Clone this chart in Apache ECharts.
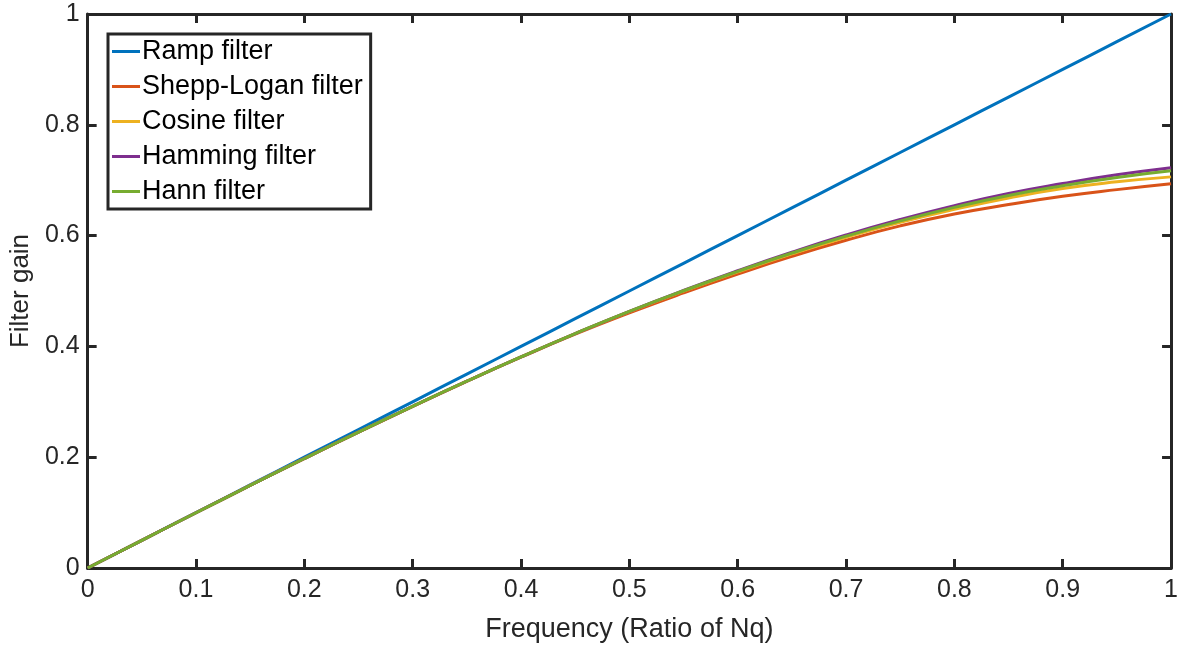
<!DOCTYPE html>
<html>
<head>
<meta charset="utf-8">
<script src="https://cdn.jsdelivr.net/npm/echarts@6/dist/echarts.min.js"></script>
<style>html,body{margin:0;padding:0;background:#fff}#c{width:1181px;height:648px}</style>
</head>
<body>
<div id="c"></div>
<script>
const freq = [0,0.05,0.1,0.15,0.2,0.25,0.3,0.35,0.4,0.45,0.5,0.55,0.6,0.65,0.7,0.75,0.8,0.85,0.9,0.95,1.0];
const ramp = [0,0.05,0.1,0.15,0.2,0.25,0.3,0.35,0.4,0.45,0.5,0.55,0.6,0.65,0.7,0.75,0.8,0.85,0.9,0.95,1.0];
const sheppLogan = [0,0.05,0.0997,0.149,0.1975,0.2451,0.2915,0.337,0.3805,0.422,0.4605,0.4965,0.5305,0.5625,0.5915,0.6175,0.639,0.656,0.671,0.683,0.6936];
const cosine = [0,0.05,0.0997,0.149,0.1976,0.2453,0.2919,0.3372,0.381,0.4231,0.4628,0.4998,0.5345,0.567,0.597,0.624,0.6475,0.668,0.685,0.697,0.706];
const hamming = [0,0.05,0.0997,0.149,0.1976,0.2453,0.2919,0.3372,0.381,0.4231,0.4633,0.501,0.5365,0.570,0.601,0.629,0.654,0.676,0.694,0.7098,0.7226];
const hann = [0,0.05,0.0997,0.149,0.1976,0.2453,0.2919,0.3372,0.381,0.4231,0.4633,0.5005,0.5355,0.5685,0.599,0.6265,0.651,0.6725,0.690,0.705,0.717];
const xTicks = [0,0.1,0.2,0.3,0.4,0.5,0.6,0.7,0.8,0.9,1];
const yTicks = [0,0.2,0.4,0.6,0.8,1];
const names = ['Ramp filter','Shepp-Logan filter','Cosine filter','Hamming filter','Hann filter'];
const colors = ['#0072BD','#D95319','#EDB120','#7E2F8E','#77AC30'];

const ink = '#262626';
const font = 'Arial';
function pairs(ys){ return freq.map((x,i)=>[x,ys[i]]); }
const allY = [ramp, sheppLogan, cosine, hamming, hann];

const chart = echarts.init(document.getElementById('c'));
const axisCommon = {
  type:'value', min:0, splitLine:{show:false},
  axisLine:{show:true, onZero:false, lineStyle:{color:ink, width:3}},
  axisTick:{show:true, inside:true, length:9, lineStyle:{color:ink, width:3}},
};
chart.setOption({
  animation:false,
  backgroundColor:'#fff',
  color: colors,
  grid:{left:86, right:8, top:14, bottom:80, containLabel:false},
  xAxis:[
    Object.assign({}, axisCommon, {max:1, interval:xTicks[1]-xTicks[0], position:'bottom',
      name:'Frequency (Ratio of Nq)', nameLocation:'middle', nameGap:48,
      nameTextStyle:{color:ink, fontSize:27, fontFamily:font},
      axisLabel:{color:ink, fontSize:25, fontFamily:font, margin:10}}),
    Object.assign({}, axisCommon, {max:1, interval:xTicks[1]-xTicks[0], position:'top', axisLabel:{show:false}})
  ],
  yAxis:[
    Object.assign({}, axisCommon, {max:1, interval:yTicks[1]-yTicks[0], position:'left',
      name:'Filter gain', nameLocation:'middle', nameGap:42,
      nameTextStyle:{color:ink, fontSize:26, fontFamily:font},
      axisLabel:{color:ink, fontSize:25, fontFamily:font, margin:8}}),
    Object.assign({}, axisCommon, {max:1, interval:yTicks[1]-yTicks[0], position:'right', axisLabel:{show:false}})
  ],
  legend:{
    orient:'vertical', left:108, top:34,
    data:names,
    icon:'rect', itemWidth:28, itemHeight:3, itemGap:8,
    padding:[4,8,4,4],
    borderColor:ink, borderWidth:3, backgroundColor:'#fff',
    textStyle:{color:'#000', fontSize:27, fontFamily:font, padding:[0,0,0,-3]}
  },
  series: names.map((n,i)=>({
    name:n, type:'line', xAxisIndex:0, yAxisIndex:0,
    data:pairs(allY[i]), smooth:true, showSymbol:false, symbol:'none',
    lineStyle:{width:3, color:colors[i]}, itemStyle:{color:colors[i]}, z:2+i
  }))
});
</script>
</body>
</html>
